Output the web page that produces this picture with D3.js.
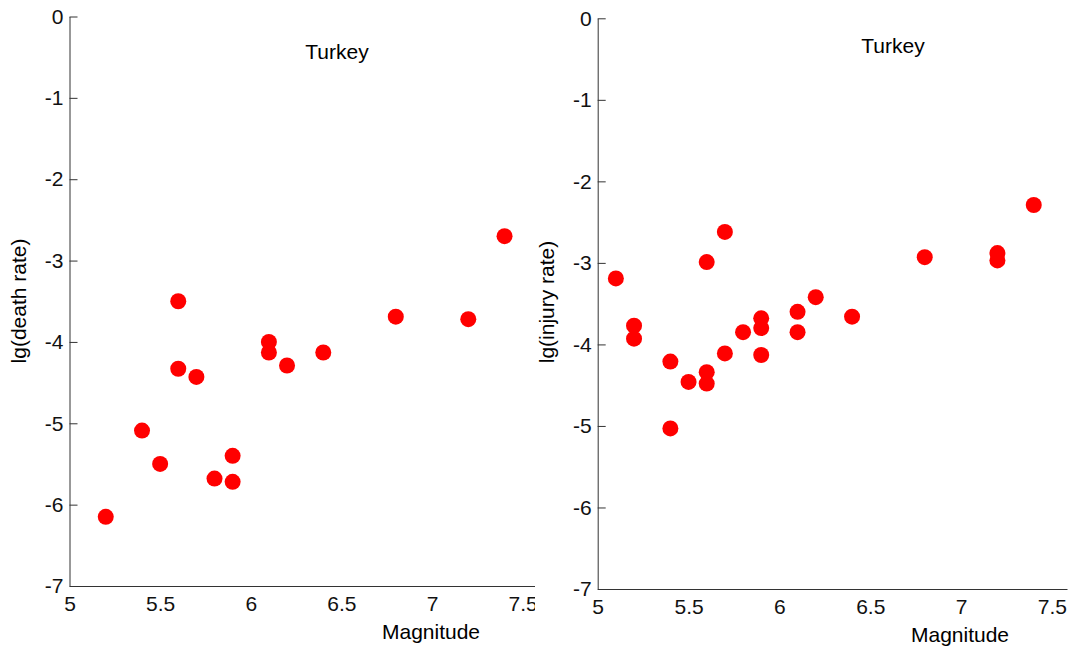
<!DOCTYPE html>
<html>
<head>
<meta charset="utf-8">
<script src="https://cdn.jsdelivr.net/npm/d3@7"></script>
<style>
	body { margin: 0; background: #fff; }
	svg { display: block; font-family: Arial, 'Liberation Sans', sans-serif; }
	.axis path, .axis line { stroke: #333; }
	.axis text { font-size: 21px; fill: #111; font-family: Arial, 'Liberation Sans', sans-serif; }
</style>
</head>
<body>
<svg id="chart" width="1072" height="648"></svg>
<script>
// magnitudes and log rates
const deathMag = [5.2, 5.4, 5.5, 5.6, 5.6, 5.7, 5.8, 5.9, 5.9, 6.1, 6.1, 6.2, 6.4, 6.8, 7.2, 7.4]
const deathRate = [-6.15, -5.09, -5.5, -3.5, -4.33, -4.43, -5.68, -5.4, -5.72, -4.0, -4.13, -4.29, -4.13, -3.69, -3.72, -2.7]

const injuryMag = [5.1, 5.2, 5.2, 5.4, 5.4, 5.5, 5.6, 5.6, 5.6, 5.7, 5.7, 5.8, 5.9, 5.9, 5.9, 6.1, 6.1, 6.2, 6.4, 6.8, 7.2, 7.2, 7.4]
const injuryRate = [-3.19, -3.77, -3.93, -4.21, -5.03, -4.46, -4.34, -4.48, -2.99, -2.62, -4.11, -3.85, -3.68, -3.8, -4.13, -3.6, -3.85, -3.42, -3.66, -2.93, -2.88, -2.97, -2.29]

const xTicks = [5, 5.5, 6, 6.5, 7, 7.5]
const yTicks = [0, -1, -2, -3, -4, -5, -6, -7]

const panels = [
	{ x: deathMag, y: deathRate, ylabel: 'lg(death rate)', left: 69.5, right: 535, top: 16.5, bottom: 586, xMax: 7.568, title: [337, 59], xlab: [431, 639], ylab: [26, 301] },
	{ x: injuryMag, y: injuryRate, ylabel: 'lg(injury rate)', left: 597.7, right: 1067, top: 18.3, bottom: 589, xMax: 7.583, title: [893, 53], xlab: [960, 642], ylab: [554, 302] }
]

// plain hyphen minus like the original, not the unicode one d3.format gives
const fmt = d => String(d)

const svg = d3.select('#chart')

panels.forEach((p, k) => {
	const x = d3.scaleLinear().domain([5, p.xMax]).range([p.left, p.right])
	const y = d3.scaleLinear().domain([-7, 0]).range([p.bottom, p.top])

	// left panel's last tick label gets cut at the axis end, like the original
	svg.append('clipPath')
		.attr('id', `clip${k}`)
		.append('rect')
		.attr('x', k === 0 ? 0 : p.left - 8)
		.attr('y', 0)
		.attr('width', k === 0 ? p.right : 1072)
		.attr('height', 648)

	svg.append('g')
		.classed('axis', true)
		.attr('clip-path', `url(#clip${k})`)
		.attr('transform', `translate(0,${p.bottom})`)
		.call(d3.axisBottom(x).tickValues(xTicks).tickFormat(fmt).tickSizeInner(-8).tickSizeOuter(0).tickPadding(10))

	svg.append('g')
		.classed('axis', true)
		.attr('transform', `translate(${p.left},0)`)
		.call(d3.axisLeft(y).tickValues(yTicks).tickFormat(fmt).tickSizeInner(-8).tickSizeOuter(0).tickPadding(6))

	svg.append('g')
		.selectAll('circle')
		.data(p.x.map((d, i) => [d, p.y[i]]))
		.enter()
		.append('circle')
		.attr('cx', d => x(d[0]))
		.attr('cy', d => y(d[1]))
		.attr('r', 8)
		.style('fill', '#ff0000')

	svg.append('text')
		.attr('x', p.title[0])
		.attr('y', p.title[1])
		.attr('text-anchor', 'middle')
		.style('font-size', '21px')
		.text('Turkey')

	svg.append('text')
		.attr('x', p.xlab[0])
		.attr('y', p.xlab[1])
		.attr('text-anchor', 'middle')
		.style('font-size', '21px')
		.text('Magnitude')

	svg.append('text')
		.attr('transform', `translate(${p.ylab[0]},${p.ylab[1]}) rotate(-90)`)
		.attr('text-anchor', 'middle')
		.style('font-size', '21px')
		.text(p.ylabel)
})
</script>
</body>
</html>
